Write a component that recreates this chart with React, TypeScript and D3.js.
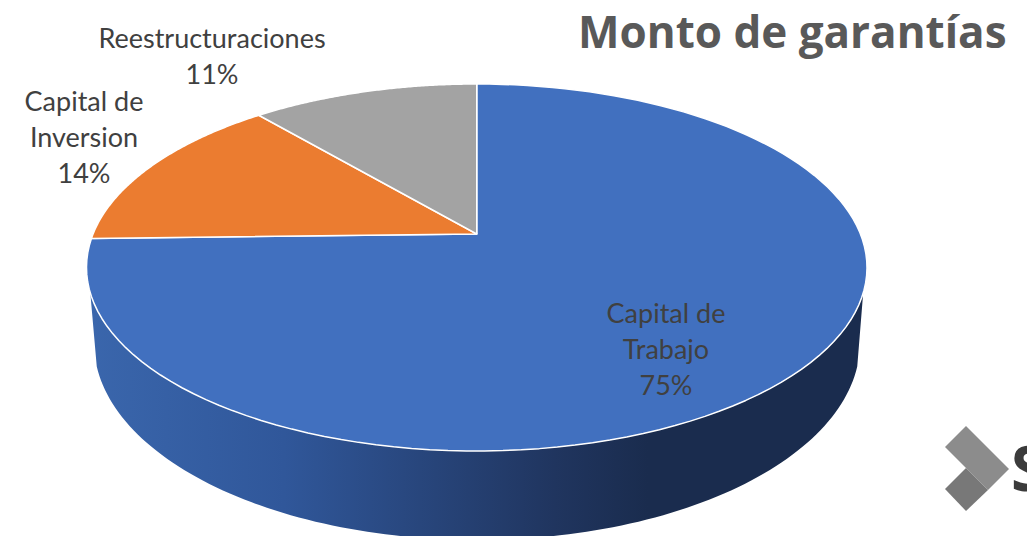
import React from "react";
import * as d3 from "d3";

const categories = ["Capital de Trabajo", "Capital de Inversion", "Reestructuraciones"];
// the labels show these rounded
const values = [74.6, 14.2, 11.2];
const colors = ["#4170bf", "#eb7c30", "#a3a3a3"];
const labelLines = [["Capital de", "Trabajo"], ["Capital de", "Inversion"], ["Reestructuraciones"]];
const title = "Monto de garantías";

// top of the pie: ellipse on screen, the apex sits above the ellipse centre (perspective)
const xTop = d3.scaleLinear().domain([-1, 1]).range([86.5, 867]);
const yTop = d3.scaleLinear().domain([-1, 1]).range([84, 451]);
// bottom rim, narrower because it is further away
const xBottom = d3.scaleLinear().domain([-1, 1]).range([94, 860]);
const yBottom = d3.scaleLinear().domain([-1, 1]).range([146, 540]);
const tilt = yTop.invert(234);

const toScreen = (a: number): [number, number] => {
  const u = Math.sin(a);
  const v = -Math.cos(a);
  const w = 1 + tilt * v;
  return [xTop((u * Math.sqrt(1 - tilt * tilt)) / w), yTop((v + tilt) / w)];
};

const line = d3.line();
const pie = d3.pie<number>().sort(null)(values);

function slicePath(start: number, end: number) {
  const steps = d3.range(0, 121).map((i) => toScreen(start + ((end - start) * i) / 120));
  const apex: [number, number] = [xTop(0), yTop(tilt)];
  return line([apex, ...steps]) + "Z";
}

function rim(xs: d3.ScaleLinear<number, number>, ys: d3.ScaleLinear<number, number>, from: number, to: number) {
  return d3.range(0, 121).map((i) => {
    const t = from + ((to - from) * i) / 120;
    return [xs(Math.cos(t)), ys(Math.sin(t))] as [number, number];
  });
}

const wallTop = rim(xTop, yTop, 0.14, Math.PI - 0.14);
const wallBottom = rim(xBottom, yBottom, Math.PI - 0.12, 0.12);

const labelPos = [
  { x: 666, y: 323 },
  { x: 84, y: 111 },
  { x: 212, y: 48 },
];
const lineGap = 36;

export default function App() {
  return (
    <svg width={1027} height={536} style={{ position: "absolute", left: 0, top: 0 }}>
      <defs>
        <linearGradient id="wall" gradientUnits="userSpaceOnUse" x1={90} x2={865} y1={0} y2={0}>
          <stop offset="0" stopColor="#3a66ac" />
          <stop offset="0.25" stopColor="#30579a" />
          <stop offset="0.6" stopColor="#20355f" />
          <stop offset="0.72" stopColor="#1a2c4e" />
          <stop offset="1" stopColor="#1a2c4e" />
        </linearGradient>
      </defs>
      <rect width={1027} height={536} fill="#ffffff" />

      <path d={line([...wallTop, ...wallBottom]) + "Z"} fill="url(#wall)" />

      {pie.map((d, i) => (
        <path
          key={categories[i]}
          d={slicePath(d.startAngle, d.endAngle)}
          fill={colors[i]}
          stroke="#ffffff"
          strokeWidth={1.5}
          strokeLinejoin="round"
        />
      ))}

      {labelPos.map((p, i) => (
        <text
          key={categories[i]}
          x={p.x}
          y={p.y}
          textAnchor="middle"
          fontFamily="Lato, sans-serif"
          fontSize={27}
          fill="#404040"
        >
          {[...labelLines[i], `${Math.round(values[i])}%`].map((t, j) => (
            <tspan key={j} x={p.x} y={p.y + j * lineGap}>
              {t}
            </tspan>
          ))}
        </text>
      ))}

      <text x={578} y={48} fontFamily="'Open Sans', sans-serif" fontWeight={700} fontSize={44} fill="#595959">
        {title}
      </text>

      {/* logo */}
      <path d={line([[945, 447], [966, 426], [1009, 469], [988, 490]]) + "Z"} fill="#8c8c8c" />
      <path d={line([[945, 489], [966, 468], [988, 490], [966, 511]]) + "Z"} fill="#787878" />
      <text x={1011} y={491} fontFamily="'Open Sans', sans-serif" fontWeight={700} fontSize={62} fill="#3b3b3b">
        S
      </text>
    </svg>
  );
}
